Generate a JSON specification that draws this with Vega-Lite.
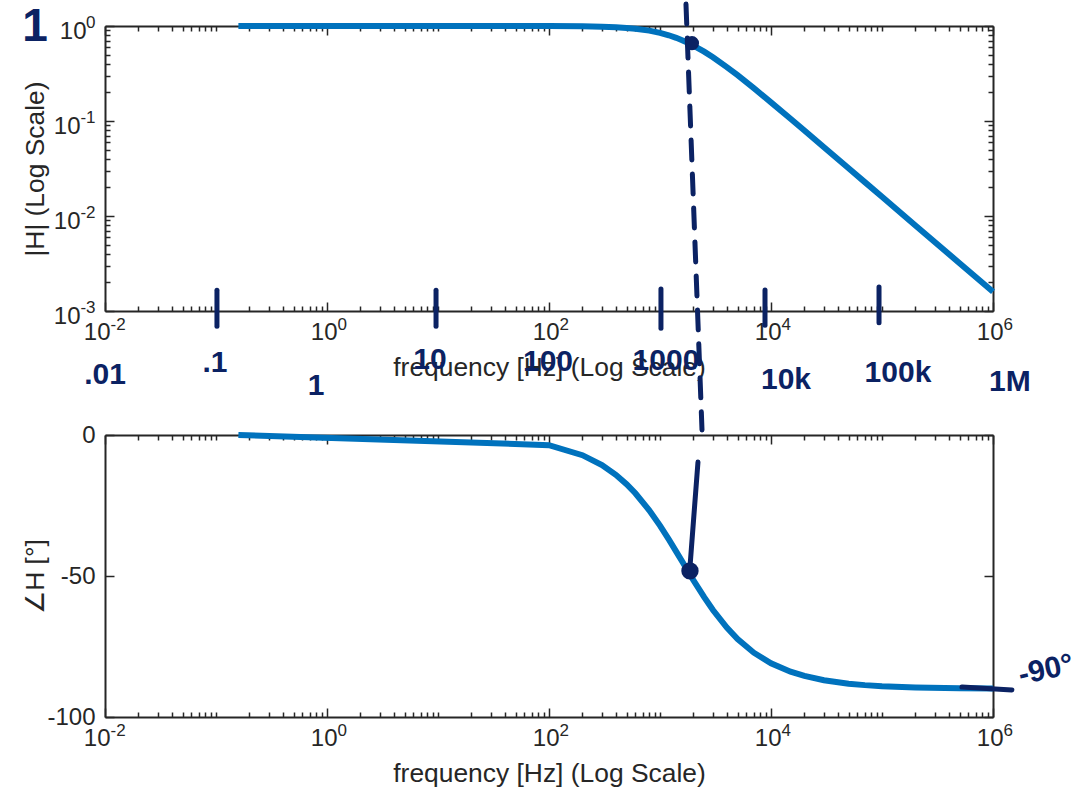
{
"$schema": "https://vega.github.io/schema/vega-lite/v6.json",
"background": "white",
"padding": {"left": 22, "top": 1, "right": 0, "bottom": 0},
"autosize": {"type": "pad"},
"bounds": "flush",
"spacing": 124,
"config": {
  "font": "Liberation Sans",
  "view": {"stroke": null},
  "axis": {"labelFont": "Liberation Sans", "labelFontSize": 24, "labelColor": "#262626", "titleFont": "Liberation Sans", "titleFontSize": 26.4, "titleFontWeight": "normal", "titleColor": "#262626", "domainColor": "#262626", "domainWidth": 2, "tickColor": "#262626", "tickWidth": 1.5, "grid": false, "labelOverlap": false, "labelFlush": false}
},
"datasets": {
  "bode": [
    {"f":0.159155,"mag":1.0,"phase":-0.0057},
    {"f":100,"mag":0.99803,"phase":-3.595},
    {"f":200,"mag":0.9922,"phase":-7.162},
    {"f":300,"mag":0.98269,"phase":-10.674},
    {"f":400,"mag":0.96984,"phase":-14.107},
    {"f":500,"mag":0.95403,"phase":-17.441},
    {"f":600,"mag":0.93572,"phase":-20.657},
    {"f":800,"mag":0.89348,"phase":-26.69},
    {"f":1000,"mag":0.84673,"phase":-32.142},
    {"f":1200,"mag":0.79847,"phase":-37.015},
    {"f":1400,"mag":0.75085,"phase":-41.335},
    {"f":1600,"mag":0.70523,"phase":-45.152},
    {"f":1800,"mag":0.6624,"phase":-48.513},
    {"f":2000,"mag":0.62268,"phase":-51.488},
    {"f":2500,"mag":0.53703,"phase":-57.518},
    {"f":3000,"mag":0.46865,"phase":-62.058},
    {"f":4000,"mag":0.3697,"phase":-68.303},
    {"f":5000,"mag":0.30332,"phase":-72.343},
    {"f":7000,"mag":0.22171,"phase":-77.191},
    {"f":10000,"mag":0.15718,"phase":-80.957},
    {"f":15000,"mag":0.10551,"phase":-83.943},
    {"f":20000,"mag":0.079327,"phase":-85.45},
    {"f":30000,"mag":0.052977,"phase":-86.963},
    {"f":50000,"mag":0.031815,"phase":-88.177},
    {"f":70000,"mag":0.02273,"phase":-88.697},
    {"f":100000,"mag":0.015914,"phase":-89.088},
    {"f":200000,"mag":0.0079575,"phase":-89.544},
    {"f":500000,"mag":0.0031831,"phase":-89.818},
    {"f":1000000,"mag":0.0015915,"phase":-89.909}
  ],
  "topDash": [{"f":1714,"m":1.7,"f2":2390,"m2":0.000056}],
  "topTicks": [
    {"f":0.102,"m":0.00165,"m2":0.00069},
    {"f":9.6,"m":0.00165,"m2":0.00069},
    {"f":1020,"m":0.0017,"m2":0.00066},
    {"f":8830,"m":0.00166,"m2":0.00071},
    {"f":94000,"m":0.00179,"m2":0.00075}
  ],
  "topDot": [{"f":1941,"m":0.66}],
  "topLabels": [
    {"f":0.01,"m":0.000212,"label":".01"},
    {"f":0.098,"m":0.000284,"label":".1"},
    {"f":0.796,"m":0.000162,"label":"1"},
    {"f":8.47,"m":0.000305,"label":"10"},
    {"f":98,"m":0.00029,"label":"100"},
    {"f":1132,"m":0.000298,"label":"1000"},
    {"f":13650,"m":0.000188,"label":"10k"},
    {"f":139300,"m":0.000222,"label":"100k"},
    {"f":1420000,"m":0.000179,"label":"1M"}
  ],
  "topOne": [{"f":0.00234,"m":0.976,"label":"1"}],
  "botLines": [
    {"f":2198,"p":-9.6,"f2":1862,"p2":-46.8},
    {"f":525000,"p":-89.4,"f2":1480000,"p2":-90.4}
  ],
  "botDot": [{"f":1862,"p":-48.2}],
  "botText": [{"f":3000000,"p":-83.3,"label":"-90°"}]
},
"vconcat": [
  {
    "width": 888, "height": 285,
    "layer": [
      {"data": {"name": "bode"}, "mark": {"type": "line", "color": "#0072BD", "strokeWidth": 6},
       "encoding": {
         "x": {"field": "f", "type": "quantitative", "scale": {"type": "log", "domain": [0.01, 1000000], "nice": false},
               "axis": {"orient": "bottom", "values": [0.01,0.02,0.03,0.04,0.05,0.06,0.07,0.08,0.09,0.1,0.2,0.3,0.4,0.5,0.6,0.7,0.8,0.9,1,2,3,4,5,6,7,8,9,10,20,30,40,50,60,70,80,90,100,200,300,400,500,600,700,800,900,1000,2000,3000,4000,5000,6000,7000,8000,9000,10000,20000,30000,40000,50000,60000,70000,80000,90000,100000,200000,300000,400000,500000,600000,700000,800000,900000,1000000],
                        "labelExpr": "indexof([0.01, 1, 100, 10000, 1000000], datum.value) >= 0 ? '10' : ''",
                        "labelAlign": "right",
                        "labelOffset": {"condition": {"test": "datum.value === 0.01", "value": 5}, "value": 10},
                        "tickSize": {"condition": {"test": "indexof([0.01, 1, 100, 10000, 1000000], datum.value) >= 0", "value": -9}, "value": -5},
                        "labelPadding": 18, "title": "frequency [Hz] (Log Scale)", "titlePadding": 6}},
         "y": {"field": "mag", "type": "quantitative", "scale": {"type": "log", "domain": [0.001, 1], "nice": false},
               "axis": {"orient": "left", "values": [0.001,0.002,0.003,0.004,0.005,0.006,0.007,0.008,0.009,0.01,0.02,0.03,0.04,0.05,0.06,0.07,0.08,0.09,0.1,0.2,0.3,0.4,0.5,0.6,0.7,0.8,0.9,1],
                        "labelExpr": "indexof([0.001, 0.01, 0.1, 1], datum.value) >= 0 ? '10' : ''",
                        "labelAlign": "right", "labelBaseline": "middle", "labelOffset": 5,
                        "tickSize": {"condition": {"test": "indexof([0.001, 0.01, 0.1, 1], datum.value) >= 0", "value": -9}, "value": -5},
                        "labelPadding": {"condition": {"test": "datum.value === 1", "value": 28}, "value": 34},
                        "title": "|H| (Log Scale)", "titleX": -70, "titleBaseline": "middle"}}
       }},
      {"data": {"name": "topDash"}, "mark": {"type": "rule", "color": "#0b2263", "strokeWidth": 5, "strokeDash": [20, 14], "strokeCap": "round"},
       "encoding": {
         "x": {"field": "f", "type": "quantitative",
               "axis": {"orient": "top", "values": [0.01,0.02,0.03,0.04,0.05,0.06,0.07,0.08,0.09,0.1,0.2,0.3,0.4,0.5,0.6,0.7,0.8,0.9,1,2,3,4,5,6,7,8,9,10,20,30,40,50,60,70,80,90,100,200,300,400,500,600,700,800,900,1000,2000,3000,4000,5000,6000,7000,8000,9000,10000,20000,30000,40000,50000,60000,70000,80000,90000,100000,200000,300000,400000,500000,600000,700000,800000,900000,1000000],
                        "labels": false, "title": null,
                        "tickSize": {"condition": {"test": "indexof([0.01, 1, 100, 10000, 1000000], datum.value) >= 0", "value": -9}, "value": -5}}},
         "y": {"field": "m", "type": "quantitative",
               "axis": {"orient": "right", "values": [0.001,0.002,0.003,0.004,0.005,0.006,0.007,0.008,0.009,0.01,0.02,0.03,0.04,0.05,0.06,0.07,0.08,0.09,0.1,0.2,0.3,0.4,0.5,0.6,0.7,0.8,0.9,1],
                        "labels": false, "title": null,
                        "tickSize": {"condition": {"test": "indexof([0.001, 0.01, 0.1, 1], datum.value) >= 0", "value": -9}, "value": -5}}},
         "x2": {"field": "f2"}, "y2": {"field": "m2"}
       }},
      {"data": {"name": "topTicks"}, "mark": {"type": "rule", "color": "#0b2263", "strokeWidth": 5, "strokeCap": "round"},
       "encoding": {
         "x": {"field": "f", "type": "quantitative",
               "axis": {"orient": "bottom", "values": [0.01, 1, 100, 10000, 1000000], "ticks": false, "domain": false, "title": null,
                        "labelExpr": "datum.value === 0.01 ? '-2' : datum.value === 1 ? '0' : datum.value === 100 ? '2' : datum.value === 10000 ? '4' : datum.value === 1000000 ? '6' : ''",
                        "labelAlign": "left", "labelFontSize": 17, "labelPadding": 5,
                        "labelOffset": {"condition": {"test": "datum.value === 0.01", "value": 5}, "value": 10}}},
         "y": {"field": "m", "type": "quantitative",
               "axis": {"orient": "left", "values": [0.001, 0.01, 0.1, 1], "ticks": false, "domain": false, "title": null,
                        "labelExpr": "datum.value === 1 ? '0' : datum.value === 0.1 ? '-1' : datum.value === 0.01 ? '-2' : datum.value === 0.001 ? '-3' : ''",
                        "labelAlign": "right", "labelBaseline": "middle", "labelFontSize": 17, "labelPadding": 10, "labelOffset": -4}},
         "y2": {"field": "m2"}
       }},
      {"data": {"name": "topDot"}, "mark": {"type": "circle", "color": "#0b2263", "opacity": 1, "size": 200},
       "encoding": {
         "x": {"field": "f", "type": "quantitative", "axis": null},
         "y": {"field": "m", "type": "quantitative", "axis": null}
       }},
      {"data": {"name": "topLabels"}, "mark": {"type": "text", "color": "#0b2263", "font": "Liberation Sans", "fontWeight": "bold", "fontSize": 30, "align": "center", "baseline": "middle"},
       "encoding": {
         "x": {"field": "f", "type": "quantitative", "axis": null},
         "y": {"field": "m", "type": "quantitative", "axis": null},
         "text": {"field": "label"}
       }},
      {"data": {"name": "topOne"}, "mark": {"type": "text", "color": "#0b2263", "font": "Liberation Sans", "fontWeight": "bold", "fontSize": 46, "align": "center", "baseline": "middle"},
       "encoding": {
         "x": {"field": "f", "type": "quantitative", "axis": null},
         "y": {"field": "m", "type": "quantitative", "axis": null},
         "text": {"field": "label"}
       }}
    ],
    "resolve": {"axis": {"x": "independent", "y": "independent"}}
  },
  {
    "width": 888, "height": 282,
    "layer": [
      {"data": {"name": "bode"}, "mark": {"type": "line", "color": "#0072BD", "strokeWidth": 6},
       "encoding": {
         "x": {"field": "f", "type": "quantitative", "scale": {"type": "log", "domain": [0.01, 1000000], "nice": false},
               "axis": {"orient": "bottom", "values": [0.01,0.02,0.03,0.04,0.05,0.06,0.07,0.08,0.09,0.1,0.2,0.3,0.4,0.5,0.6,0.7,0.8,0.9,1,2,3,4,5,6,7,8,9,10,20,30,40,50,60,70,80,90,100,200,300,400,500,600,700,800,900,1000,2000,3000,4000,5000,6000,7000,8000,9000,10000,20000,30000,40000,50000,60000,70000,80000,90000,100000,200000,300000,400000,500000,600000,700000,800000,900000,1000000],
                        "labelExpr": "indexof([0.01, 1, 100, 10000, 1000000], datum.value) >= 0 ? '10' : ''",
                        "labelAlign": "right",
                        "labelOffset": {"condition": {"test": "datum.value === 0.01", "value": 5}, "value": 10},
                        "tickSize": {"condition": {"test": "indexof([0.01, 1, 100, 10000, 1000000], datum.value) >= 0", "value": -9}, "value": -5},
                        "labelPadding": 18, "title": "frequency [Hz] (Log Scale)", "titlePadding": 6}},
         "y": {"field": "phase", "type": "quantitative", "scale": {"domain": [-100, 0], "nice": false},
               "axis": {"orient": "left", "values": [-100, -50, 0], "labelExpr": "'' + datum.value",
                        "tickSize": -9, "labelPadding": 19, "title": "∠H [°]", "titleX": -70, "titleBaseline": "middle"}}
       }},
      {"data": {"name": "botLines"}, "mark": {"type": "rule", "color": "#0b2263", "strokeWidth": 5, "strokeCap": "round"},
       "encoding": {
         "x": {"field": "f", "type": "quantitative",
               "axis": {"orient": "top", "values": [0.01,0.02,0.03,0.04,0.05,0.06,0.07,0.08,0.09,0.1,0.2,0.3,0.4,0.5,0.6,0.7,0.8,0.9,1,2,3,4,5,6,7,8,9,10,20,30,40,50,60,70,80,90,100,200,300,400,500,600,700,800,900,1000,2000,3000,4000,5000,6000,7000,8000,9000,10000,20000,30000,40000,50000,60000,70000,80000,90000,100000,200000,300000,400000,500000,600000,700000,800000,900000,1000000],
                        "labels": false, "title": null,
                        "tickSize": {"condition": {"test": "indexof([0.01, 1, 100, 10000, 1000000], datum.value) >= 0", "value": -9}, "value": -5}}},
         "y": {"field": "p", "type": "quantitative",
               "axis": {"orient": "right", "values": [-100, -50, 0], "labels": false, "title": null, "tickSize": -9}},
         "x2": {"field": "f2"}, "y2": {"field": "p2"}
       }},
      {"data": {"name": "botDot"}, "mark": {"type": "circle", "color": "#0b2263", "opacity": 1, "size": 300},
       "encoding": {
         "x": {"field": "f", "type": "quantitative",
               "axis": {"orient": "bottom", "values": [0.01, 1, 100, 10000, 1000000], "ticks": false, "domain": false, "title": null,
                        "labelExpr": "datum.value === 0.01 ? '-2' : datum.value === 1 ? '0' : datum.value === 100 ? '2' : datum.value === 10000 ? '4' : datum.value === 1000000 ? '6' : ''",
                        "labelAlign": "left", "labelFontSize": 17, "labelPadding": 5,
                        "labelOffset": {"condition": {"test": "datum.value === 0.01", "value": 5}, "value": 10}}},
         "y": {"field": "p", "type": "quantitative", "axis": null}
       }},
      {"data": {"name": "botText"}, "mark": {"type": "text", "color": "#0b2263", "font": "Liberation Sans", "fontWeight": "bold", "fontSize": 30, "align": "center", "baseline": "middle", "angle": -12},
       "encoding": {
         "x": {"field": "f", "type": "quantitative", "axis": null},
         "y": {"field": "p", "type": "quantitative", "axis": null},
         "text": {"field": "label"}
       }}
    ],
    "resolve": {"axis": {"x": "independent", "y": "independent"}}
  }
]
}
